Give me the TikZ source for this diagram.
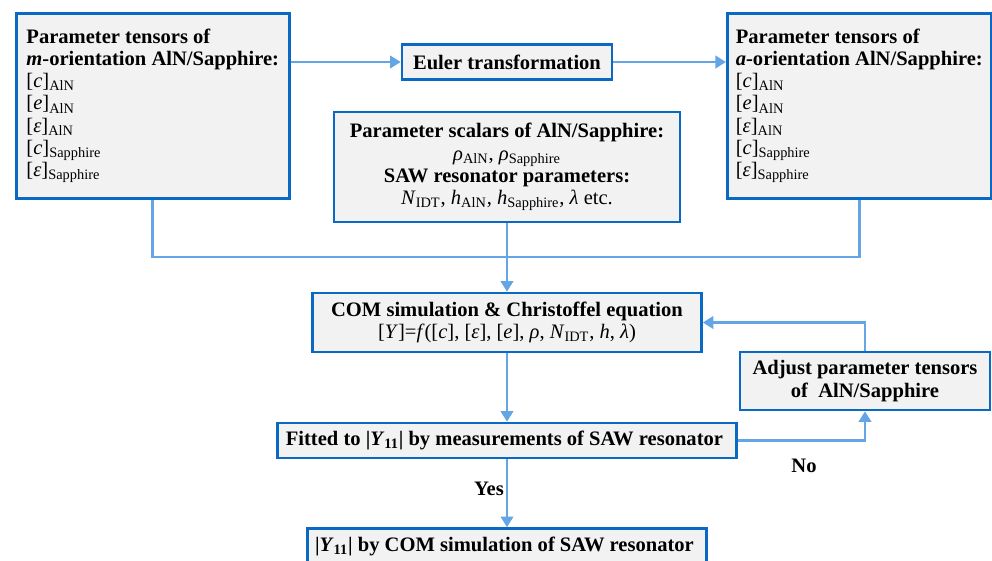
\documentclass[tikz,border=0pt]{standalone}
\usepackage{fontspec}
\setmainfont{Liberation Serif}
\usetikzlibrary{arrows.meta, positioning, calc}
\definecolor{boxblue}{RGB}{10, 105, 195}
\definecolor{lineblue}{RGB}{100, 165, 230}
\definecolor{boxgray}{RGB}{242, 242, 242}
\newcommand{\tens}[2]{{\mdseries[\textit{#1}]\textsubscript{#2}}}
\tikzset{
  stepbox/.style={draw=boxblue, fill=boxgray, line width=1.5pt, inner sep=3pt, align=center,
    font=\bfseries\fontsize{11.7}{12.6}\selectfont},
  tensorbox/.style={stepbox, anchor=north west, align=left, minimum width=5.46cm, minimum height=3.7cm},
  flowline/.style={draw=lineblue, line width=1.6pt},
  flowarrow/.style={flowline, -{Triangle[length=6pt, width=7pt]}},
  answer/.style={font=\bfseries\fontsize{11.7}{12.6}\selectfont}
}

\begin{document}
\begin{tikzpicture}[x=0.02cm, y=-0.02cm]
  \useasboundingbox (0,0) rectangle (992,561);
  \clip (0,0) rectangle (992,561);

  % Input tensors and transformation
  \node[tensorbox] (mtensor) at (15,12) {
    Parameter tensors of\\
    \textit{m}-orientation AlN/Sapphire:\\
    \tens{c}{AlN}\\ \tens{e}{AlN}\\ \tens{ε}{AlN}\\ \tens{c}{Sapphire}\\ \tens{ε}{Sapphire}
  };
  \node[stepbox, minimum width=4.2cm, minimum height=0.7cm] (euler) at (507,62) {Euler transformation};
  \node[tensorbox, minimum width=5.28cm] (atensor) at (726,12) {
    Parameter tensors of\\
    \textit{a}-orientation AlN/Sapphire:\\
    \tens{c}{AlN}\\ \tens{e}{AlN}\\ \tens{ε}{AlN}\\ \tens{c}{Sapphire}\\ \tens{ε}{Sapphire}
  };

  % Scalars
  \node[stepbox, minimum width=6.92cm, minimum height=2.2cm] (scalars) at (507,167) {
    Parameter scalars of AlN/Sapphire:\\
    {\mdseries\textit{ρ}\textsubscript{AlN}, \textit{ρ}\textsubscript{Sapphire}}\\
    SAW resonator parameters:\\
    {\mdseries\textit{N}\textsubscript{IDT}, \textit{h}\textsubscript{AlN}, \textit{h}\textsubscript{Sapphire}, \textit{λ} etc.}
  };

  % Simulation loop
  \node[stepbox, minimum width=7.78cm, minimum height=1.18cm] (com) at (507,322.5) {
    COM simulation \& Christoffel equation\\
    {\mdseries[\textit{Y}]=\textit{f}([\textit{c}], [\textit{ε}], [\textit{e}], \textit{ρ}, \textit{N}\textsubscript{IDT}, \textit{h}, \textit{λ})}
  };
  \node[stepbox, minimum width=5cm, minimum height=1.16cm] (adjust) at (865,381) {
    Adjust parameter tensors\\
    of~ AlN/Sapphire
  };
  \node[stepbox, minimum width=9.18cm, minimum height=0.7cm] (fitted) at (507,440.5) {
    Fitted to |\textit{Y}\textsubscript{11}| by measurements of SAW resonator
  };
  \node[stepbox, minimum width=7.98cm, minimum height=0.7cm] (result) at (507,546) {
    |\textit{Y}\textsubscript{11}| by COM simulation of SAW resonator
  };

  % Connectors
  \coordinate (bus) at (507,257);
  \draw[flowarrow] (euler.west -| mtensor.east) -- (euler.west);
  \draw[flowarrow] (euler.east) -- (euler.east -| atensor.west);
  \draw[flowline] (mtensor.south) |- (bus) -| (atensor.south);
  \draw[flowarrow] (scalars.south) -- (com.north);
  \draw[flowarrow] (com.south) -- (fitted.north);
  \draw[flowarrow] (fitted.east) -| (adjust.south);
  \draw[flowarrow] (adjust.north) |- (com.east);
  \draw[flowarrow] (fitted.south) -- (result.north);

  \node[answer] (yes) at (489,489) {Yes};
  \node[answer] (no) at (804,466) {No};
\end{tikzpicture}
\end{document}
